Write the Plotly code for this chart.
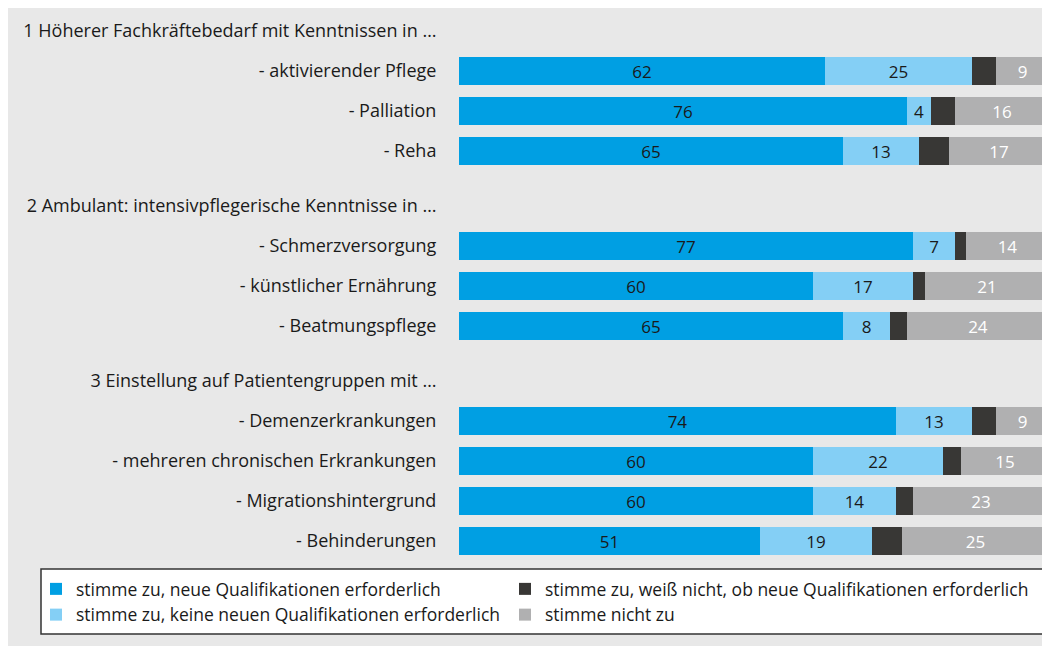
import plotly.graph_objects as go

# ---- data ----
group_headers = [
    "1 Höherer Fachkräftebedarf mit Kenntnissen in …",
    "2 Ambulant: intensivpflegerische Kenntnisse in …",
    "3 Einstellung auf Patientengruppen mit …",
]
group_items = [
    ["- aktivierender Pflege", "- Palliation", "- Reha"],
    ["- Schmerzversorgung", "- künstlicher Ernährung", "- Beatmungspflege"],
    ["- Demenzerkrankungen", "- mehreren chronischen Erkrankungen",
     "- Migrationshintergrund", "- Behinderungen"],
]
neu = [62, 76, 65, 77, 60, 65, 74, 60, 60, 51]
keine = [25, 4, 13, 7, 17, 8, 13, 22, 14, 19]
weiss = [4, 4, 5, 2, 2, 3, 4, 3, 3, 5]
nicht = [9, 16, 17, 14, 21, 24, 9, 15, 23, 25]

series_names = [
    "stimme zu, neue Qualifikationen erforderlich",
    "stimme zu, keine neuen Qualifikationen erforderlich",
    "stimme zu, weiß nicht, ob neue Qualifikationen erforderlich",
    "stimme nicht zu",
]

# ---- layout (figure is placed at 8,8 in the page) ----
W, H = 1042, 638
l_margin = 451
r_margin = 1
plot_w = W - l_margin - r_margin
plot_h = 555
b_margin = H - plot_h

row_step = 40
group_gap = 15
y = 23
tickvals, ticktext, bar_y = [], [], []
for hdr, items in zip(group_headers, group_items):
    tickvals.append(y); ticktext.append(hdr)
    y += row_step
    for it in items:
        tickvals.append(y); ticktext.append(it)
        bar_y.append(y)
        y += row_step
    y += group_gap

colors = ["#009fe3", "#84cff5", "#383735", "#b0b0b1"]
text_colors = ["#1a1a1a", "#1a1a1a", "#ffffff", "#ffffff"]
legend_ids = ["legend", "legend", "legend2", "legend2"]
font_family = "Open Sans, Noto Sans, sans-serif"

fig = go.Figure()
for i, vals in enumerate([neu, keine, weiss, nicht]):
    show_text = i != 2
    fig.add_trace(go.Bar(
        x=vals, y=bar_y, orientation="h", name=series_names[i],
        marker=dict(color=colors[i], line=dict(width=0)),
        width=28,
        text=[str(v) for v in vals] if show_text else None,
        textposition="inside" if show_text else "none",
        insidetextanchor="middle",
        textangle=0,
        constraintext="none",
        insidetextfont=dict(color=text_colors[i], size=17, family=font_family),
        legend=legend_ids[i],
        hoverinfo="skip",
    ))

# legend box (figure px)
box_l, box_r, box_t, box_b = 33, 1038, 561, 626
leg_top = 563
leg_font = dict(size=17.5, family=font_family, color="#1a1a1a")
common_leg = dict(
    orientation="v", xref="paper", yref="paper",
    y=-(leg_top - plot_h) / plot_h, xanchor="left", yanchor="top",
    bgcolor="rgba(0,0,0,0)", borderwidth=0, font=leg_font,
    traceorder="normal", itemwidth=30, tracegroupgap=0,
)

fig.update_layout(
    width=W, height=H,
    barmode="stack",
    bargap=0,
    paper_bgcolor="#e8e8e8",
    plot_bgcolor="rgba(0,0,0,0)",
    margin=dict(l=l_margin, r=r_margin, t=0, b=b_margin, autoexpand=False),
    font=dict(family=font_family, size=17, color="#1a1a1a"),
    uniformtext=dict(minsize=17, mode="show"),
    xaxis=dict(range=[0, 100], visible=False, fixedrange=True),
    yaxis=dict(range=[plot_h, 0], tickvals=tickvals, ticktext=ticktext,
               showgrid=False, zeroline=False, showline=False, automargin=False,
               ticks="outside", ticklen=18, tickcolor="rgba(0,0,0,0)",
               tickfont=dict(size=18, family=font_family, color="#1a1a1a")),
    legend=dict(x=(28 - l_margin) / plot_w, **common_leg),
    legend2=dict(x=(497 - l_margin) / plot_w, **common_leg),
    shapes=[
        dict(type="rect", xref="paper", yref="paper",
             x0=(box_l - l_margin) / plot_w, x1=(box_r - l_margin) / plot_w,
             y0=-(box_t - plot_h) / plot_h, y1=-(box_b - plot_h) / plot_h,
             fillcolor="#ffffff", line=dict(width=1.5, color="#333333"),
             layer="below"),
    ],
)

fig.write_html("out.html")
